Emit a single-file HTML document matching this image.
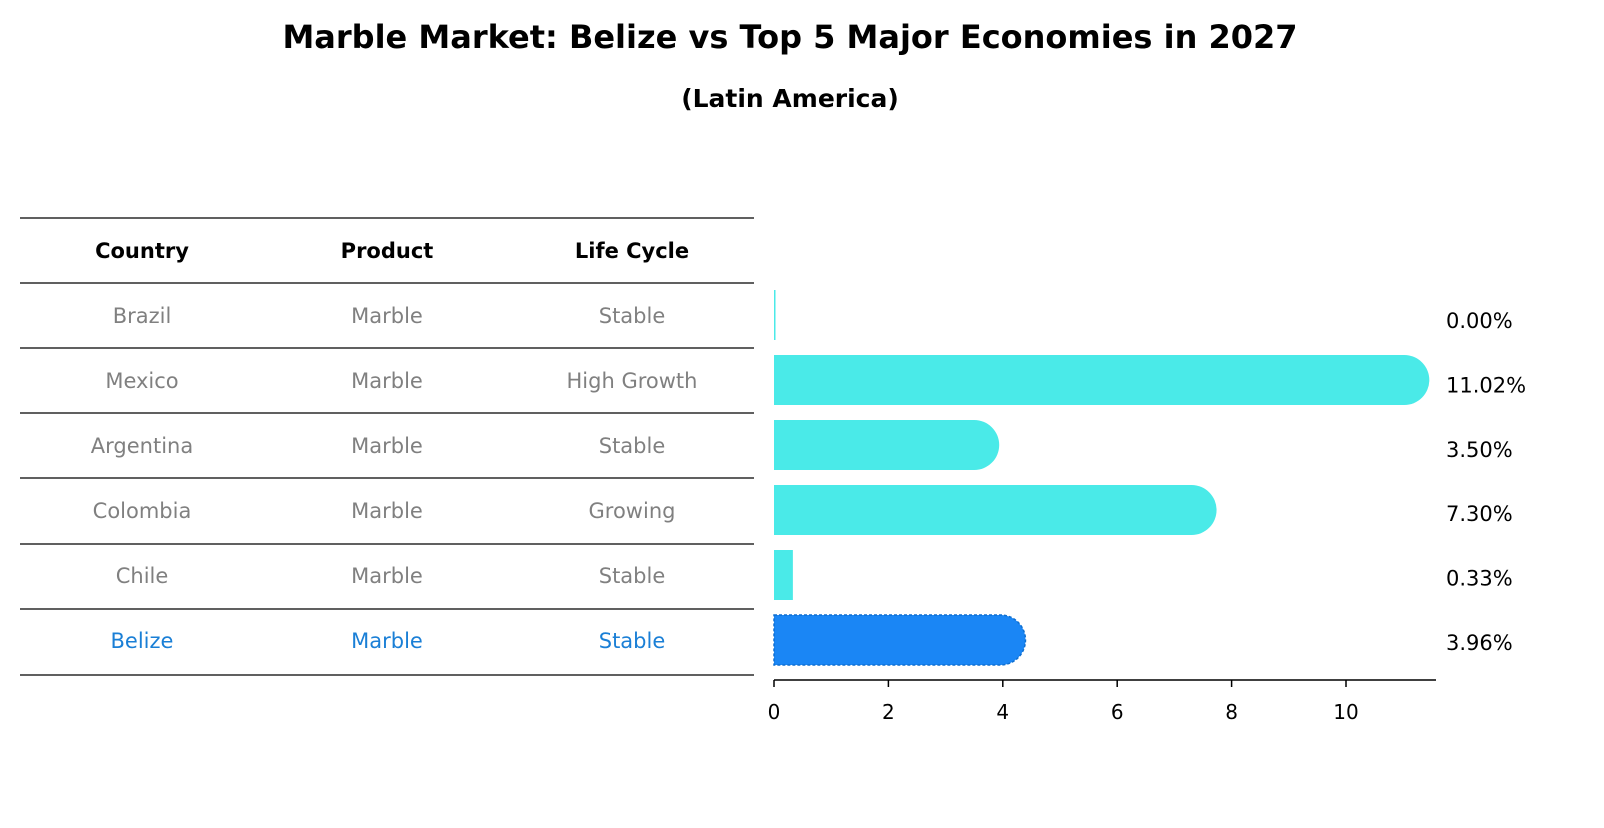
<!DOCTYPE html>
<html><head><meta charset="utf-8"><style>
body{margin:0;background:#fff;}
svg text{font-family:"DejaVu Sans","Liberation Sans",sans-serif;}
</style></head><body>
<svg width="1604" height="823" xmlns="http://www.w3.org/2000/svg" id="chart">
<text x="790" y="48" text-anchor="middle" font-size="32" font-weight="bold">Marble Market: Belize vs Top 5 Major Economies in 2027</text>
<text x="790" y="107" text-anchor="middle" font-size="25" font-weight="bold">(Latin America)</text>
<g id="table"></g>
<g id="bars"></g>
</svg>
<script>
const countries=["Brazil","Mexico","Argentina","Colombia","Chile","Belize"];
const products=["Marble","Marble","Marble","Marble","Marble","Marble"];
const lifecycles=["Stable","High Growth","Stable","Growing","Stable","Stable"];
const values=[0.00,11.02,3.50,7.30,0.33,3.96];
const ticks=[0,2,4,6,8,10];
const NS="http://www.w3.org/2000/svg";
function mk(tag,attrs,parent,txt){const e=document.createElementNS(NS,tag);for(const k in attrs)e.setAttribute(k,attrs[k]);if(txt!==undefined)e.textContent=txt;parent.appendChild(e);return e;}
const x0=774,pxPer=57.2;
function xs(v){return x0+v*pxPer;}
const rowC=i=>315+i*65;
const tbl=document.getElementById('table');
const lineYs=[218,283,348,413,478,544,609,675];
lineYs.forEach((y,i)=>{const l=mk('line',{x1:20,x2:754,y1:y,y2:y,stroke:'#000','stroke-width':1.2},tbl);

});
const colX=[142,387,632];
["Country","Product","Life Cycle"].forEach((h,j)=>{const t=mk('text',{x:colX[j],y:258,'text-anchor':'middle','font-size':21,'font-weight':'bold'},tbl,h);

});
countries.forEach((c,i)=>{const col=c==="Belize"?"#1a7fd6":"#808080";
[c,products[i],lifecycles[i]].forEach((v,j)=>{const t=mk('text',{x:colX[j],y:rowC(i)+8,'text-anchor':'middle','font-size':21,fill:col},tbl,v);

});});
const bg=document.getElementById('bars');
values.forEach((v,i)=>{const isB=countries[i]==="Belize";const fill=isB?"#1a86f5":"#4aeae8";
const w=v*pxPer;const cy=rowC(i);let el;
if(w>50){el=mk('path',{d:`M${x0},${cy-25} H${x0+w} A25,25 0 0 1 ${x0+w},${cy+25} H${x0} Z`,fill:fill},bg);}
else{el=mk('rect',{x:x0,y:cy-25,width:Math.max(w,1.5),height:50,fill:fill},bg);}
if(isB){el.setAttribute('stroke','#0f6fd0');el.setAttribute('stroke-dasharray','3,2');el.setAttribute('stroke-width','1.5');}


const t=mk('text',{x:1446,y:cy+13-(i===0?0:i*0.6),'font-size':21},bg,v.toFixed(2)+'%');

});
const ax=mk('line',{x1:x0,x2:1436,y1:680,y2:680,stroke:'#000','stroke-width':1.5},bg);


ticks.forEach(tv=>{const tl=mk('line',{x1:xs(tv),x2:xs(tv),y1:680,y2:687,stroke:'#000','stroke-width':1.5},bg);


const t=mk('text',{x:xs(tv),y:719,'text-anchor':'middle','font-size':20},bg,String(tv));

});
</script>
</body></html>
